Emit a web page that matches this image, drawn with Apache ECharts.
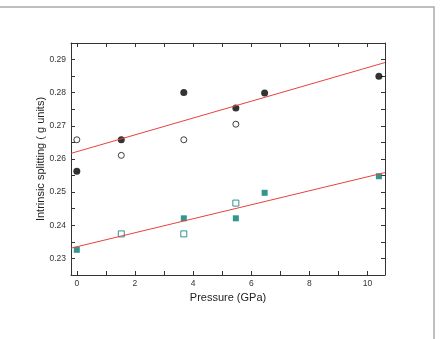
<!DOCTYPE html>
<html>
<head>
<meta charset="utf-8">
<script src="https://cdn.jsdelivr.net/npm/echarts@6/dist/echarts.min.js"></script>
<style>
  html, body { margin: 0; padding: 0; background: #fff; }
  #main { width: 440px; height: 339px; }
</style>
</head>
<body>
<div id="main"></div>
<script>
// pressure (GPa) and splitting values
var circleFilled = [[0, 0.2563], [1.53, 0.2658], [3.68, 0.2801], [5.47, 0.2754], [6.46, 0.2799], [10.39, 0.2850]];
var circleOpen = [[0, 0.2658], [1.53, 0.2611], [3.68, 0.2658], [5.47, 0.2705]];
var squareFilled = [[0, 0.2326], [3.68, 0.2421], [5.47, 0.2421], [6.46, 0.2498], [10.39, 0.2548]];
var squareOpen = [[1.53, 0.2374], [3.68, 0.2374], [5.47, 0.2467]];
// linear fits, end points at the frame edges
var fitX = [-0.2, 10.6];
var fitUpper = [0.2617, 0.2891];
var fitLower = [0.2331, 0.2559];
// ticks
var xTicks = [0, 1, 2, 3, 4, 5, 6, 7, 8, 9, 10];
var xLabels = [0, 2, 4, 6, 8, 10];
var yTicks = [0.225, 0.23, 0.235, 0.24, 0.245, 0.25, 0.255, 0.26, 0.265, 0.27, 0.275, 0.28, 0.285, 0.29, 0.295];
var yLabels = [0.23, 0.24, 0.25, 0.26, 0.27, 0.28, 0.29];

var myChart = echarts.init(document.getElementById("main"));
var font = "Liberation Sans";
var axisCol = "#333";
var teal = "#007a72";

function pairs(xs, ys) {
  var out = [];
  for (var i = 0; i < xs.length; i++) out.push([xs[i], ys[i]]);
  return out;
}

function xAx(pos, showLabel) {
  return {
    type: "value", position: pos, min: -0.2, max: 10.6,
    name: showLabel ? "Pressure (GPa)" : "",
    nameLocation: "middle", nameGap: 17,
    nameTextStyle: { fontFamily: font, fontSize: 11, color: "#222" },
    axisLine: { show: true, onZero: false, lineStyle: { color: axisCol, width: 1 } },
    axisTick: { show: true, inside: true, length: 4, customValues: xTicks, lineStyle: { color: axisCol } },
    axisLabel: { show: showLabel, customValues: xLabels, margin: 4, fontFamily: font, fontSize: 8.5, color: "#333" },
    splitLine: { show: false }
  };
}

function yAx(pos, showLabel) {
  return {
    type: "value", position: pos, min: 0.225, max: 0.295,
    name: showLabel ? "Intrinsic splitting ( g units)" : "",
    nameLocation: "middle", nameGap: 25, nameMoveOverlap: false,
    nameTextStyle: { fontFamily: font, fontSize: 11, color: "#222" },
    axisLine: { show: true, onZero: false, lineStyle: { color: axisCol, width: 1 } },
    axisTick: { show: true, inside: true, length: 4, customValues: yTicks, lineStyle: { color: axisCol } },
    axisLabel: {
      show: showLabel, customValues: yLabels, margin: 5, fontFamily: font, fontSize: 8.5, color: "#333",
      formatter: function (v) { return v.toFixed(2); }
    },
    splitLine: { show: false }
  };
}

var option = {
  animation: false,
  backgroundColor: "#fff",
  grid: { left: 71, right: 55, top: 43, bottom: 64 },
  graphic: [{
    type: "rect", silent: true,
    shape: { x: -2, y: 7, width: 436, height: 340 },
    style: { fill: "none", stroke: "#aaa", lineWidth: 1.5 }
  }],
  xAxis: [xAx("bottom", true), xAx("top", false)],
  yAxis: [yAx("left", true), yAx("right", false)],
  series: [
    {
      type: "line", data: pairs(fitX, fitUpper), showSymbol: false, silent: true,
      lineStyle: { color: "#e8423e", width: 1 }
    },
    {
      type: "line", data: pairs(fitX, fitLower), showSymbol: false, silent: true,
      lineStyle: { color: "#e8423e", width: 1 }
    },
    {
      type: "scatter", data: circleOpen, symbol: "circle", symbolSize: 6,
      itemStyle: { color: "#fff", borderColor: "#111", borderWidth: 1 }
    },
    {
      type: "scatter", data: circleFilled, symbol: "circle", symbolSize: 7,
      itemStyle: { color: "#000" }
    },
    {
      type: "scatter", data: squareOpen, symbol: "rect", symbolSize: 6,
      itemStyle: { color: "#fff", borderColor: teal, borderWidth: 1 }
    },
    {
      type: "scatter", data: squareFilled, symbol: "rect", symbolSize: 6,
      itemStyle: { color: teal }
    }
  ]
};
myChart.setOption(option);
</script>
</body>
</html>
